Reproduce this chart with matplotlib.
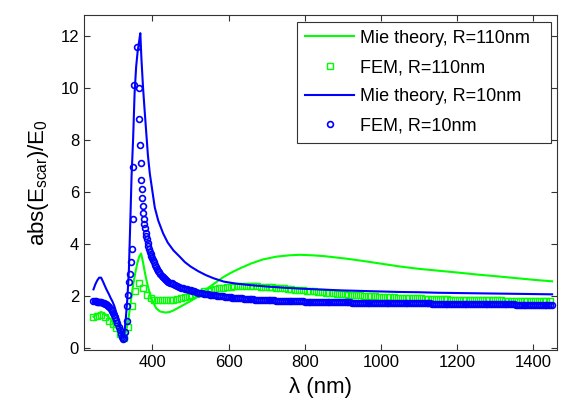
import numpy as np
import matplotlib
matplotlib.use("Agg")
import matplotlib.pyplot as plt

plt.rcParams["font.family"] = ["Liberation Sans", "DejaVu Sans"]
plt.rcParams["mathtext.fontset"] = "custom"
plt.rcParams["mathtext.rm"] = "Liberation Sans"
plt.rcParams["mathtext.it"] = "Liberation Sans"
plt.rcParams["mathtext.default"] = "regular"

GREEN = "#00ff00"
BLUE = "#0000ff"

# Mie theory, R=110nm (line)
mie110_wl = [245, 255, 265, 275, 285, 295, 305, 315, 320, 325, 330, 335, 340, 345, 350,
             355, 360, 365, 370, 375, 380, 385, 390, 395, 400, 410, 420, 434, 445, 455,
             465, 480, 500, 520, 542, 560, 586, 605, 630, 660, 690, 726, 760, 787, 820,
             850, 880, 910, 950, 1000, 1050, 1100, 1150, 1200, 1260, 1300, 1350, 1400, 1450]
mie110_val = [1.20, 1.30, 1.38, 1.30, 1.18, 1.00, 0.78, 0.55, 0.43, 0.33, 0.60, 0.95, 1.45, 2.00, 2.50,
              2.90, 3.25, 3.50, 3.63, 3.30, 2.90, 2.55, 2.25, 1.97, 1.80, 1.52, 1.40, 1.36, 1.38, 1.44,
              1.52, 1.64, 1.80, 1.98, 2.26, 2.45, 2.72, 2.88, 3.06, 3.25, 3.40, 3.51, 3.56, 3.58, 3.56,
              3.53, 3.48, 3.43, 3.35, 3.24, 3.13, 3.04, 2.97, 2.90, 2.81, 2.76, 2.69, 2.62, 2.56]

# FEM, R=110nm (squares)
fem110_wl = np.arange(245, 1446, 10)
fem110_val = [1.18, 1.22, 1.28, 1.20, 1.05, 0.92, 0.75, 0.55, 0.37, 0.80,
              1.60, 2.20, 2.50, 2.30, 2.02, 1.92, 1.86, 1.84, 1.83, 1.83,
              1.84, 1.86, 1.89, 1.93, 1.97, 2.01, 2.05, 2.09, 2.13, 2.17,
              2.20, 2.23, 2.26, 2.29, 2.32, 2.34, 2.36, 2.37, 2.38, 2.39,
              2.39, 2.39, 2.38, 2.37, 2.36, 2.35, 2.34, 2.33, 2.32, 2.30,
              2.29, 2.27, 2.26, 2.24, 2.23, 2.21, 2.20, 2.18, 2.17, 2.15,
              2.14, 2.12, 2.11, 2.10, 2.09, 2.07, 2.06, 2.05, 2.04, 2.03,
              2.02, 2.01, 2.00, 1.99, 1.98, 1.97, 1.96, 1.95, 1.95, 1.94,
              1.93, 1.92, 1.92, 1.91, 1.91, 1.90, 1.90, 1.89, 1.89, 1.88,
              1.88, 1.87, 1.87, 1.87, 1.86, 1.86, 1.86, 1.85, 1.85, 1.85,
              1.84, 1.84, 1.84, 1.84, 1.83, 1.83, 1.83, 1.83, 1.82, 1.82,
              1.82, 1.82, 1.82, 1.81, 1.81, 1.81, 1.81, 1.81, 1.80, 1.80,
              1.80]

# Mie theory, R=10nm (line)
mie10_wl = [245, 250, 255, 260, 265, 270, 275, 280, 285, 290, 295, 300, 305, 310, 315,
            320, 323, 326, 330, 334, 338, 342, 345, 349, 353, 357, 361, 365, 368, 371,
            375, 379, 383, 388, 393, 400, 406, 415, 428, 440, 455, 472, 485, 500, 520,
            540, 560, 587, 620, 660, 700, 750, 800, 850, 900, 950, 1000, 1050, 1100, 1150,
            1200, 1250, 1300, 1350, 1400, 1450]
mie10_val = [2.25, 2.45, 2.60, 2.70, 2.70, 2.55, 2.38, 2.22, 2.08, 1.92, 1.78, 1.60, 1.35, 1.10, 0.78,
             0.46, 0.38, 0.55, 1.15, 1.90, 3.00, 5.00, 6.60, 8.00, 9.80, 10.80, 11.40, 11.80, 12.10, 11.10,
             10.05, 9.20, 8.40, 7.40, 6.70, 6.00, 5.40, 4.90, 4.40, 4.05, 3.75, 3.50, 3.30, 3.13, 2.95,
             2.80, 2.68, 2.55, 2.47, 2.41, 2.36, 2.31, 2.27, 2.24, 2.21, 2.19, 2.17, 2.15, 2.14, 2.12,
             2.11, 2.10, 2.09, 2.08, 2.07, 2.06]

# FEM, R=10nm (circles): dense left part, resonance, dense tail
fem10_wl_left = np.arange(245, 330, 3)
fem10_val_left = [1.80, 1.79, 1.79, 1.78, 1.78, 1.77, 1.76, 1.75, 1.74, 1.72,
                  1.70, 1.67, 1.64, 1.60, 1.56, 1.50, 1.43, 1.35, 1.27, 1.20,
                  1.08, 0.95, 0.82, 0.68, 0.55, 0.43, 0.35, 0.38, 0.62]
fem10_wl_peak = [332, 334, 336, 338, 340, 343, 346, 348, 349.5, 351,
                 358, 364.5, 365.5, 367, 368.5, 370, 371.5, 373, 374.5, 376,
                 377.5, 379, 380.5, 382, 383.5, 385, 387, 389, 391, 393,
                 395, 397, 399, 401, 403, 406, 409, 412, 415, 418,
                 421, 424, 427, 430, 433, 436, 439, 442, 446]
fem10_val_peak = [1.05, 1.60, 2.05, 2.55, 2.85, 3.30, 3.80, 4.95, 6.97, 10.10,
                  11.55, 10.00, 8.80, 7.80, 7.10, 6.45, 6.10, 5.75, 5.45, 5.20,
                  4.97, 4.77, 4.60, 4.43, 4.30, 4.18, 4.03, 3.90, 3.80, 3.70,
                  3.60, 3.52, 3.45, 3.38, 3.30, 3.20, 3.12, 3.04, 2.97, 2.90,
                  2.84, 2.78, 2.73, 2.68, 2.64, 2.60, 2.57, 2.54, 2.51]
fem10_wl_tail = np.arange(450, 1451, 5)
fem10_val_tail = [2.48, 2.44, 2.41, 2.38, 2.35, 2.32, 2.29, 2.27, 2.25, 2.23,
                  2.21, 2.19, 2.17, 2.15, 2.13, 2.12, 2.10, 2.09, 2.07, 2.06,
                  2.05, 2.04, 2.03, 2.02, 2.01, 2.00, 1.99, 1.98, 1.97, 1.96,
                  1.95, 1.94, 1.93, 1.93, 1.92, 1.91, 1.91, 1.90, 1.89, 1.89,
                  1.88, 1.88, 1.87, 1.87, 1.86, 1.86, 1.85, 1.85, 1.85, 1.84,
                  1.84, 1.84, 1.83, 1.83, 1.83, 1.82, 1.82, 1.82, 1.81, 1.81,
                  1.81, 1.81, 1.80, 1.80, 1.80, 1.80, 1.79, 1.79, 1.79, 1.79,
                  1.78, 1.78, 1.78, 1.78, 1.78, 1.77, 1.77, 1.77, 1.77, 1.77,
                  1.76, 1.76, 1.76, 1.76, 1.76, 1.76, 1.76, 1.75, 1.75, 1.75,
                  1.75, 1.75, 1.75, 1.75, 1.75, 1.74, 1.74, 1.74, 1.74, 1.74,
                  1.74, 1.74, 1.74, 1.74, 1.73, 1.73, 1.73, 1.73, 1.73, 1.73,
                  1.73, 1.73, 1.73, 1.73, 1.72, 1.72, 1.72, 1.72, 1.72, 1.72,
                  1.72, 1.72, 1.72, 1.72, 1.72, 1.71, 1.71, 1.71, 1.71, 1.71,
                  1.71, 1.71, 1.71, 1.71, 1.71, 1.71, 1.71, 1.70, 1.70, 1.70,
                  1.70, 1.70, 1.70, 1.70, 1.70, 1.70, 1.70, 1.70, 1.70, 1.70,
                  1.70, 1.69, 1.69, 1.69, 1.69, 1.69, 1.69, 1.69, 1.69, 1.69,
                  1.69, 1.69, 1.69, 1.68, 1.68, 1.68, 1.68, 1.68, 1.68, 1.68,
                  1.68, 1.68, 1.67, 1.67, 1.67, 1.67, 1.67, 1.67, 1.67, 1.67,
                  1.67, 1.66, 1.66, 1.66, 1.66, 1.66, 1.66, 1.66, 1.66, 1.66,
                  1.66, 1.66, 1.65, 1.65, 1.65, 1.65, 1.65, 1.65, 1.65, 1.65,
                  1.65]

fem10_wl = np.concatenate([fem10_wl_left, fem10_wl_peak, fem10_wl_tail])
fem10_val = np.concatenate([fem10_val_left, fem10_val_peak, fem10_val_tail])

x_ticks = [400, 600, 800, 1000, 1200, 1400]
y_ticks = [0, 2, 4, 6, 8, 10, 12]

fig = plt.figure(figsize=(5.61, 4.04), dpi=100)
ax = fig.add_axes([0.1497, 0.1337, 0.8426, 0.8292])

ax.plot(mie110_wl, mie110_val, color=GREEN, lw=1.5, label="Mie theory, R=110nm")
ax.plot(fem110_wl, fem110_val, "s", mfc="none", mec=GREEN, ms=4, mew=1.0,
        label="FEM, R=110nm")
ax.plot(mie10_wl, mie10_val, color=BLUE, lw=1.5, label="Mie theory, R=10nm")
ax.plot(fem10_wl, fem10_val, "o", mfc="none", mec=BLUE, ms=4.2, mew=1.2,
        label="FEM, R=10nm")

ax.set_xlim(220, 1462)
ax.set_ylim(-0.08, 12.8)
ax.set_xticks(x_ticks)
ax.set_yticks(y_ticks)
ax.tick_params(direction="in", length=4, width=0.8, labelsize=12,
               top=True, right=True, colors="#333333", labelcolor="black")
for spine in ax.spines.values():
    spine.set_color("#333333")
    spine.set_linewidth(0.8)

ax.set_xlabel("λ (nm)", fontsize=16, labelpad=5)
ax.set_ylabel(r"abs(E$_{scar}$)/E$_0$", fontsize=16, labelpad=7)

leg = ax.legend(loc="upper left", bbox_to_anchor=(0.45, 0.98, 0.539, 0.0), mode="expand",
                borderaxespad=0, fontsize=13, numpoints=1, handlelength=2.75,
                handletextpad=0.3, labelspacing=0.68, borderpad=0.45,
                fancybox=False, framealpha=1)
leg.get_frame().set_edgecolor("#333333")
leg.get_frame().set_linewidth(0.8)

fig.savefig("out.png", dpi=100)
